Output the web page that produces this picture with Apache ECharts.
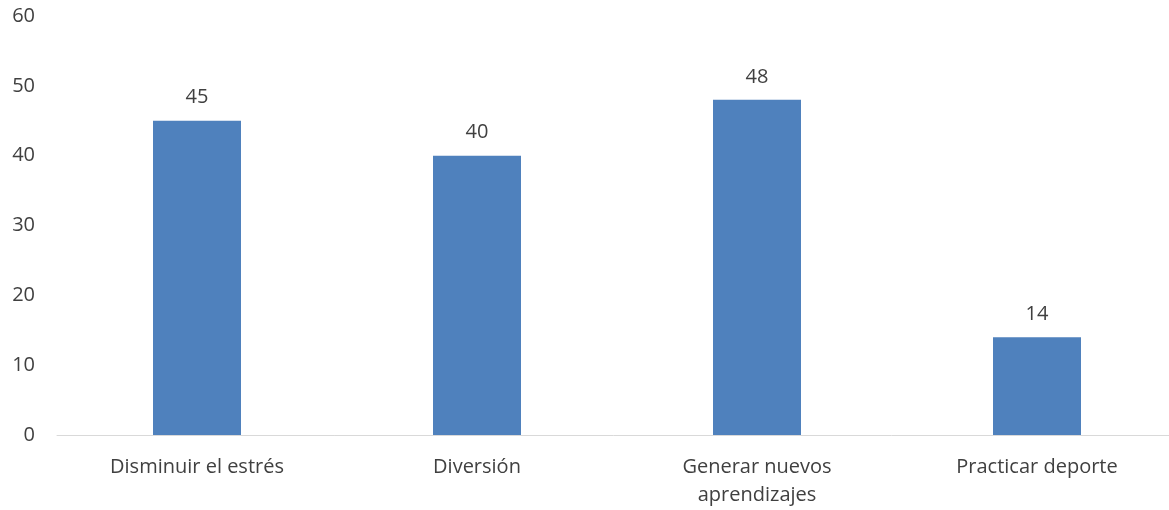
<!DOCTYPE html>
<html><head><meta charset="utf-8">
<script src="https://cdn.jsdelivr.net/npm/echarts@6/dist/echarts.min.js"></script>
<style>html,body{margin:0;padding:0;background:#fff}#c{width:1169px;height:510px}</style>
</head><body><div id="c"></div>
<script>
const categories = ["Disminuir el estrés", "Diversión", "Generar nuevos\naprendizajes", "Practicar deporte"];
const values = [45, 40, 48, 14];
const yTicks = {min: 0, max: 60, interval: 10};

const font = 'Open Sans, sans-serif';
const chart = echarts.init(document.getElementById('c'));
chart.setOption({
  animation: false,
  grid: {left: 57, top: 16, right: -8, bottom: 75, outerBoundsMode: 'none', containLabel: false},
  xAxis: {
    type: 'category', data: categories,
    axisLine: {lineStyle: {color: '#d9d9d9', width: 1}},
    axisTick: {show: false},
    axisLabel: {color: '#404040', fontSize: 20, fontFamily: font, margin: 18, lineHeight: 28}
  },
  yAxis: {
    type: 'value', min: yTicks.min, max: yTicks.max, interval: yTicks.interval,
    splitLine: {show: false}, axisLine: {show: false}, axisTick: {show: false},
    axisLabel: {color: '#404040', fontSize: 20, fontFamily: font, margin: 22}
  },
  series: [{
    type: 'bar', data: values, barWidth: 88,
    itemStyle: {color: '#4F81BD'},
    label: {show: true, position: 'top', color: '#404040', fontSize: 20, fontFamily: font, distance: 13}
  }]
});
</script></body></html>
